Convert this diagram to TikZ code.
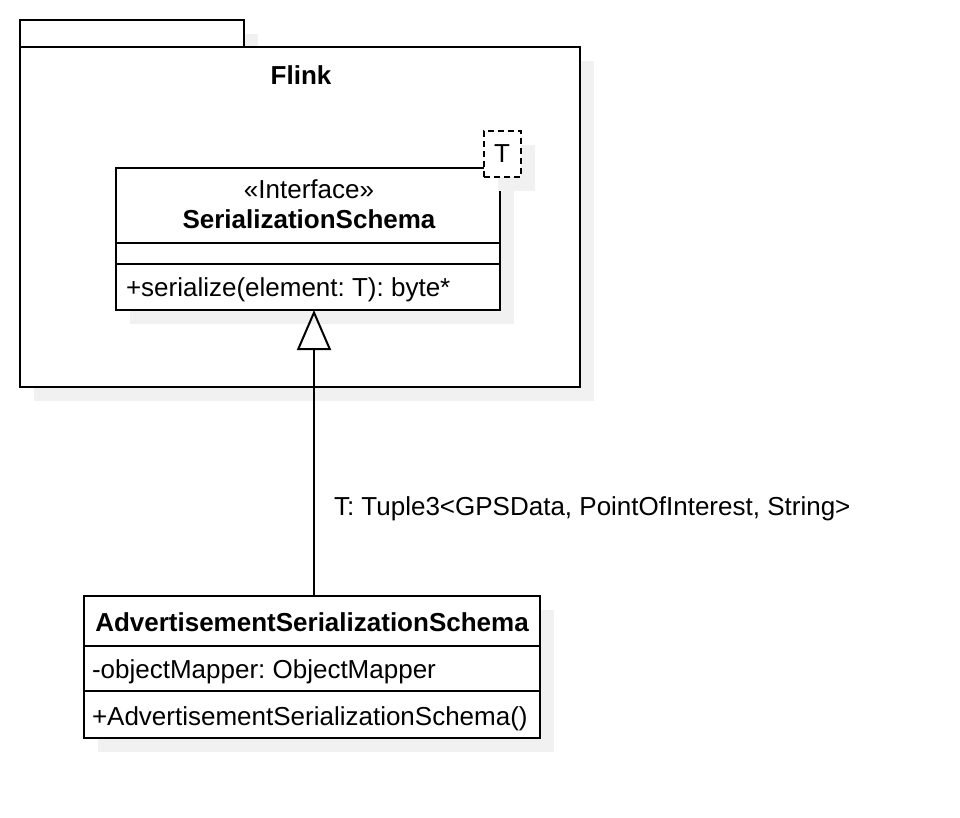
\documentclass[tikz,border=0pt]{standalone}
\usepackage{fontspec}
\setmainfont{Liberation Sans}
\usetikzlibrary{arrows.meta}
\definecolor{shadowgray}{HTML}{F1F1F1}
\frenchspacing
\tikzset{
  box/.style={draw=black, line width=2pt, fill=white, rectangle, inner sep=0pt, outer sep=0pt},
  shade/.style={fill=shadowgray, draw=none},
  txt/.style={inner sep=0pt, outer sep=0pt, font=\fontsize{26}{31}\selectfont},
  btxt/.style={txt, font=\fontsize{26}{31}\selectfont\bfseries},
  sep/.style={line width=2pt},
  tparam/.style={draw=black, line width=1.5pt, dash pattern=on 6pt off 4pt, fill=white, inner sep=0pt, outer sep=0pt},
  realize/.style={line width=2pt, -{Triangle[open, length=40pt, width=34pt, line width=2pt]}}
}
\begin{document}
\begin{tikzpicture}[x=1pt, y=-1pt]
\useasboundingbox[fill=white] (0,0) rectangle (960,818);
% package shadows
\fill[shadowgray] (34,34) rectangle (258,61);
\fill[shadowgray] (34,61) rectangle (594,401);
% package
\node[box, minimum width=224pt, minimum height=27pt, anchor=north west] (tab) at (20,20) {};
\node[box, minimum width=560pt, minimum height=340pt, anchor=north west] (pkg) at (20,47) {};
\node[btxt, anchor=base] (pkgname) at (301,85) {Flink};
% interface shadows and box
\fill[shadowgray] (130,182) rectangle (514,324);
\node[box, minimum width=384pt, minimum height=142pt, anchor=north west] (iface) at (116,168) {};
\draw[sep] (116,243) -- (500,243);
\draw[sep] (116,264) -- (500,264);
\node[txt, anchor=base] (stereo) at (309,199) {«Interface»};
\node[btxt, anchor=base] (ifname) at (309,229) {SerializationSchema};
\node[txt, anchor=base west] (ifop) at (126,296) {+serialize(element: T): byte*};
% template parameter
\fill[shadowgray] (498,145) rectangle (535,191);
\node[tparam, minimum width=37pt, minimum height=46pt, anchor=north west] (tbox) at (484,131) {};
\node[txt, anchor=base] (tlabel) at (502,163) {T};
% implementing class
\fill[shadowgray] (98,610) rectangle (554,752);
\node[box, minimum width=456pt, minimum height=142pt, anchor=north west] (adv) at (84,596) {};
\draw[sep] (84,646) -- (540,646);
\draw[sep] (84,691) -- (540,691);
\node[btxt, anchor=base] (advname) at (312,631) {AdvertisementSerializationSchema};
\node[txt, anchor=base west] (advattr) at (92,678) {-objectMapper: ObjectMapper};
\node[txt, anchor=base west] (advop) at (92,725) {+AdvertisementSerializationSchema()};
% realization
\coordinate (advtop) at (314,596);
\coordinate (ifbot) at (314,310);
\draw[realize] (advtop) -- (ifbot);
\node[txt, anchor=base west] (binding) at (334,515) {T: Tuple3<GPSData, PointOfInterest, String>};
\end{tikzpicture}
\end{document}
